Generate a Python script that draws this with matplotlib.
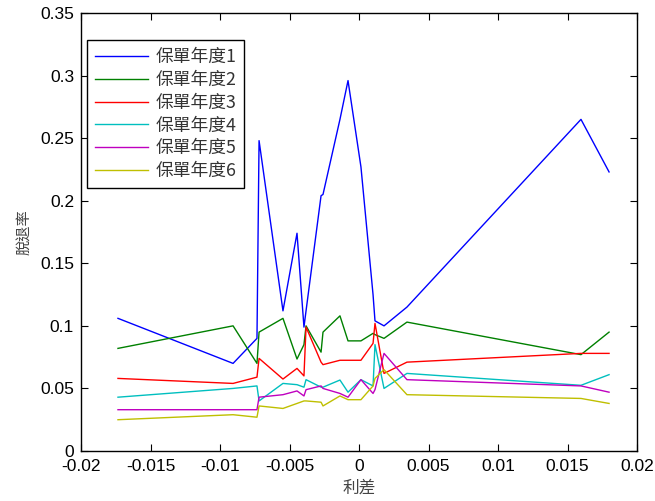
import matplotlib
matplotlib.use("Agg")
import matplotlib.pyplot as plt

# x values (interest spread) shared by all series
spread = [-0.01734, -0.00906, -0.00734, -0.00719, -0.00547, -0.00446, -0.00396,
          -0.00381, -0.00273, -0.00259, -0.00137, -0.00079, 0.00014, 0.00101,
          0.00115, 0.00180, 0.00345, 0.01597, 0.01799]

year1 = [0.106, 0.070, 0.090, 0.248, 0.112, 0.174, 0.099, 0.112, 0.204, 0.205,
         0.265, 0.296, 0.227, 0.125, 0.104, 0.100, 0.115, 0.265, 0.223]
year2 = [0.082, 0.100, 0.070, 0.095, 0.106, 0.0735, 0.085, 0.100, 0.079, 0.095,
         0.108, 0.088, 0.088, 0.094, 0.093, 0.090, 0.103, 0.077, 0.095]
year3 = [0.058, 0.054, 0.059, 0.074, 0.0575, 0.066, 0.060, 0.099, 0.071, 0.069,
         0.0725, 0.0725, 0.0725, 0.086, 0.102, 0.062, 0.071, 0.078, 0.078]
year4 = [0.043, 0.050, 0.052, 0.040, 0.054, 0.053, 0.051, 0.057, 0.051, 0.051,
         0.0567, 0.047, 0.057, 0.052, 0.085, 0.050, 0.062, 0.0525, 0.061]
year5 = [0.033, 0.033, 0.033, 0.043, 0.045, 0.048, 0.044, 0.049, 0.052, 0.050,
         0.046, 0.043, 0.057, 0.046, 0.049, 0.078, 0.057, 0.052, 0.047]
year6 = [0.025, 0.029, 0.027, 0.036, 0.034, 0.038, 0.040, 0.040, 0.039, 0.036,
         0.044, 0.041, 0.041, 0.052, 0.058, 0.065, 0.045, 0.042, 0.038]

labels = ["保單年度1", "保單年度2", "保單年度3", "保單年度4", "保單年度5", "保單年度6"]
colors = ["#0000ff", "#008000", "#ff0000", "#00bfbf", "#bf00bf", "#bfbf00"]

xticks = [-0.02, -0.015, -0.01, -0.005, 0, 0.005, 0.01, 0.015, 0.02]
xtick_labels = ["-0.02", "-0.015", "-0.01", "-0.005", "0", "0.005", "0.01", "0.015", "0.02"]
yticks = [0, 0.05, 0.1, 0.15, 0.2, 0.25, 0.3, 0.35]
ytick_labels = ["0", "0.05", "0.1", "0.15", "0.2", "0.25", "0.3", "0.35"]

plt.rcParams['font.family'] = ['Liberation Sans', 'Noto Sans CJK TC', 'DejaVu Sans']

fig = plt.figure(figsize=(6.55, 5.01), dpi=100)
ax = fig.add_axes([81 / 655, 1 - 451 / 501, 556 / 655, 438 / 501])

for ys, lab, c in zip([year1, year2, year3, year4, year5, year6], labels, colors):
    ax.plot(spread, ys, color=c, lw=1.0, label=lab)

ax.set_xlim(-0.02, 0.02)
ax.set_ylim(0, 0.35)
ax.set_xticks(xticks)
ax.set_xticklabels(xtick_labels)
ax.set_yticks(yticks)
ax.set_yticklabels(ytick_labels)
ax.tick_params(direction='in', length=5, width=0.8, top=True, right=True,
               labelsize=12.5)
ax.tick_params(axis='x', pad=6)
ax.tick_params(axis='y', pad=5)
for s in ax.spines.values():
    s.set_linewidth(1.0)

ax.set_xlabel("利差", family=['Noto Sans CJK TC'], fontsize=12, color='#444444', labelpad=4)
ax.set_ylabel("脫退率", family=['Noto Sans CJK TC'], fontsize=11, color='#444444', labelpad=5)

leg = ax.legend(loc='upper left', bbox_to_anchor=(0.011, 0.938), fancybox=False,
                framealpha=1, edgecolor='black', handlelength=3.0, handletextpad=0.4,
                labelspacing=0.27, borderpad=0.45, borderaxespad=0,
                prop={'family': ['Noto Sans CJK TC'], 'size': 12.8})
leg.get_frame().set_linewidth(1.0)
for t in leg.get_texts():
    t.set_color('#333333')

fig.savefig("out.png", dpi=100)
